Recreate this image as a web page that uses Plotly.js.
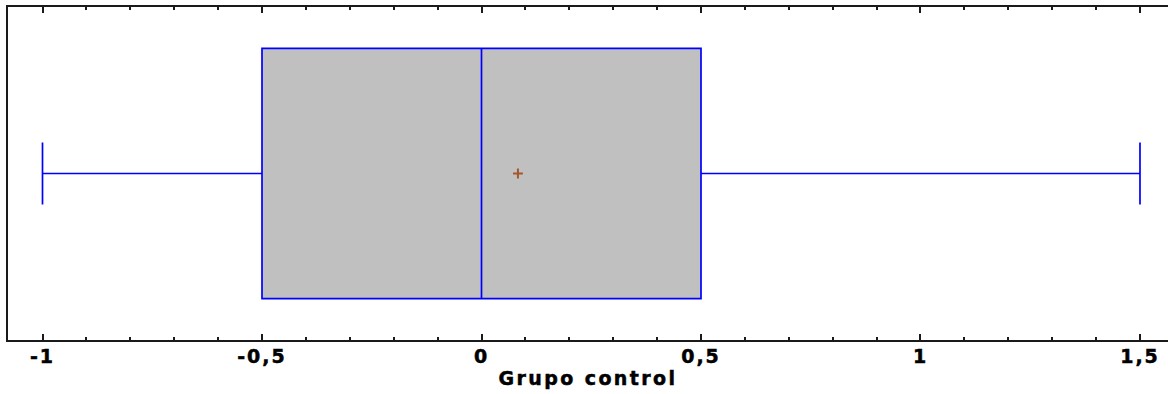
<!DOCTYPE html>
<html>
<head>
<meta charset="utf-8">
<script src="https://cdn.plot.ly/plotly-3.0.1.min.js"></script>
<style>
  html, body { margin: 0; padding: 0; background: #fff; }
  #chart { width: 1168px; height: 394px; }
  .xtick text { letter-spacing: 2px; stroke: #000; stroke-width: 0.5px; }
  .g-xtitle text { letter-spacing: 2.4px; stroke: #000; stroke-width: 0.5px; }
</style>
</head>
<body>
<div id="chart"></div>
<script>
// Summary statistics of the control group
const groupName = 'Grupo control';
const lowerWhisker = [-1];
const firstQuartile = [-0.5];
const medianValue = [0];
const thirdQuartile = [0.5];
const upperWhisker = [1.5];
const meanValue = [0.083];

// Axis ticks with comma decimals
const tickValues = [-1, -0.5, 0, 0.5, 1, 1.5];
const tickLabels = ['-1', '-0,5', '0', '0,5', '1', '1,5'];

const blue = '#0000FF';
const labelFont = { family: 'DejaVu Sans', size: 19, weight: 'bold', color: '#000' };

const boxTrace = {
  type: 'box',
  orientation: 'h',
  y: [0],
  q1: firstQuartile,
  median: medianValue,
  q3: thirdQuartile,
  lowerfence: lowerWhisker,
  upperfence: upperWhisker,
  boxpoints: false,
  boxmean: false,
  width: 0.752,
  whiskerwidth: 0.247,
  fillcolor: '#C0C0C0',
  line: { color: blue, width: 1.7 },
  hoverinfo: 'skip',
  showlegend: false
};

const meanTrace = {
  type: 'scatter',
  mode: 'markers',
  x: meanValue,
  y: [0],
  marker: { symbol: 'cross-thin', size: 7, line: { color: '#A5562A', width: 2 } },
  hoverinfo: 'skip',
  showlegend: false
};

const layout = {
  width: 1168,
  height: 394,
  margin: { l: 8, r: 0, t: 7, b: 54 },
  paper_bgcolor: '#fff',
  plot_bgcolor: '#fff',
  showlegend: false,
  xaxis: {
    range: [-1.0786, 1.5638],
    showgrid: false,
    zeroline: false,
    showline: true,
    linecolor: '#1a1a1a',
    linewidth: 2,
    mirror: 'allticks',
    ticks: 'inside',
    ticklen: 6,
    tickwidth: 2,
    tickcolor: '#1a1a1a',
    tickmode: 'array',
    tickvals: tickValues,
    ticktext: tickLabels,
    tickfont: labelFont,
    ticklabelstandoff: -2,
    minor: { dtick: 0.1, tick0: 0, ticks: 'inside', ticklen: 3, tickwidth: 2, tickcolor: '#1a1a1a', showgrid: false },
    title: { text: groupName, font: labelFont, standoff: 6 }
  },
  yaxis: {
    range: [-0.5, 0.5],
    showgrid: false,
    zeroline: false,
    showline: true,
    linecolor: '#1a1a1a',
    linewidth: 2,
    showticklabels: false,
    ticks: ''
  }
};

Plotly.newPlot('chart', [boxTrace, meanTrace], layout, { staticPlot: true, displayModeBar: false });
</script>
</body>
</html>
